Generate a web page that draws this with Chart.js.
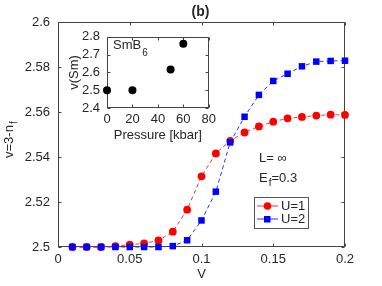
<!DOCTYPE html>
<html>
<head>
<meta charset="utf-8">
<script src="https://cdn.jsdelivr.net/npm/chart.js@4.4.1/dist/chart.umd.min.js"></script>
<style>
  html, body { margin: 0; padding: 0; background: #fff; }
  #wrap { position: relative; width: 382px; height: 286px; }
  #main { position: absolute; left: 0; top: 0; }
  #inset { position: absolute; left: 60px; top: 22px; }
</style>
</head>
<body>
<div id="wrap">
  <canvas id="main" width="382" height="286"></canvas>
  <canvas id="inset" width="160" height="125"></canvas>
</div>
<script>
// hybridisation V and valence for the two U values
const hybV = [0.01, 0.02, 0.03, 0.04, 0.05, 0.06, 0.07, 0.08, 0.09, 0.10,
              0.11, 0.12, 0.13, 0.14, 0.15, 0.16, 0.17, 0.18, 0.19, 0.20];
const valU1 = [2.5, 2.5, 2.5, 2.5004, 2.501, 2.5016, 2.5029, 2.5068, 2.5166, 2.5314,
               2.5416, 2.5472, 2.5509, 2.5536, 2.5557, 2.5572, 2.5578, 2.5584, 2.5588, 2.5587];
const valU2 = [2.5, 2.5, 2.5, 2.5, 2.5, 2.5, 2.5, 2.5004, 2.503, 2.5118,
               2.5246, 2.5465, 2.5579, 2.5676, 2.5738, 2.577, 2.5803, 2.5824, 2.5827, 2.5828];

// inset: SmB6 valence vs pressure
const pressure = [0, 20, 50, 60];
const valSm = [2.5, 2.5, 2.616, 2.761];

const FONT = 'Liberation Sans, Arial, sans-serif';
const TXT = '#262626';
const AX = '#444';

const toPts = (xs, ys) => xs.map((x, i) => ({x: x, y: ys[i]}));
const fmt = v => String(+v.toFixed(2));

// box round the axes with short inward ticks on all four sides
const frame = {
  id: 'frame',
  beforeDatasetsDraw(chart) {
    const {ctx, chartArea: a, scales} = chart;
    const L = Math.round(a.left) + 0.5, R = Math.round(a.right) - 0.5;
    const T = Math.round(a.top) + 0.5, B = Math.round(a.bottom) - 0.5;
    ctx.save();
    ctx.strokeStyle = AX;
    ctx.lineWidth = 1;
    ctx.strokeRect(L, T, R - L, B - T);
    ctx.beginPath();
    scales.x.ticks.forEach(t => {
      const px = Math.round(scales.x.getPixelForValue(t.value)) + 0.5;
      ctx.moveTo(px, B); ctx.lineTo(px, B - 3);
      ctx.moveTo(px, T); ctx.lineTo(px, T + 3);
    });
    scales.y.ticks.forEach(t => {
      const py = Math.round(scales.y.getPixelForValue(t.value)) + 0.5;
      ctx.moveTo(L, py); ctx.lineTo(L + 3, py);
      ctx.moveTo(R, py); ctx.lineTo(R - 3, py);
    });
    ctx.stroke();
    ctx.restore();
  }
};

function subText(ctx, x, y, main, sub, size, drop) {
  ctx.font = size + 'px ' + FONT;
  ctx.fillText(main, x, y);
  const w = ctx.measureText(main).width;
  ctx.font = (size - 3) + 'px ' + FONT;
  ctx.fillText(sub, x + w + 1, y + drop);
  return w + 1 + ctx.measureText(sub).width;
}

const labels = {
  id: 'labels',
  afterDraw(chart) {
    const {ctx, chartArea: a} = chart;
    ctx.save();
    ctx.fillStyle = TXT;
    ctx.textBaseline = 'middle';

    // title
    ctx.font = 'bold 14px ' + FONT;
    ctx.textAlign = 'center';
    ctx.fillText('(b)', (a.left + a.right) / 2 - 1, 12);

    // y axis title with subscript
    ctx.textAlign = 'left';
    ctx.save();
    ctx.translate(9, 158);
    ctx.rotate(-Math.PI / 2);
    subText(ctx, 0, 0, 'v=3-n', 'f', 13, 5);
    ctx.restore();

    // annotations
    ctx.font = '13px ' + FONT;
    ctx.fillText('L= \u221E', 259, 158);
    const w = subText(ctx, 259, 178, 'E', 'f', 13, 5);
    ctx.font = '13px ' + FONT;
    ctx.fillText('=0.3', 259 + w, 178);

    // legend
    ctx.strokeStyle = '#555';
    ctx.lineWidth = 1;
    ctx.strokeRect(254.5, 197.5, 54, 31);
    chart.data.datasets.forEach((ds, i) => {
      const y = 206 + i * 13;
      ctx.strokeStyle = ds.borderColor;
      ctx.beginPath();
      ctx.moveTo(257, y); ctx.lineTo(278, y);
      ctx.stroke();
      ctx.fillStyle = ds.pointBackgroundColor;
      if (ds.pointStyle === 'rect') {
        ctx.fillRect(264, y - 3, 6.5, 6.5);
      } else {
        ctx.beginPath(); ctx.arc(267.5, y, 3.8, 0, Math.PI * 2); ctx.fill();
      }
      ctx.fillStyle = TXT;
      ctx.font = '13px ' + FONT;
      ctx.fillText(ds.label, 281, y + 0.5);
    });
    ctx.restore();
  }
};

new Chart(document.getElementById('main'), {
  type: 'line',
  data: {
    datasets: [
      {
        label: 'U=1', data: toPts(hybV, valU1), order: 2, clip: false,
        borderColor: '#ff3030', borderWidth: 1, borderDash: [4, 3],
        pointStyle: 'circle', pointRadius: 3.9, pointBorderWidth: 0,
        pointBackgroundColor: '#ff0000'
      },
      {
        label: 'U=2', data: toPts(hybV, valU2), order: 1, clip: false,
        borderColor: '#3030ff', borderWidth: 1, borderDash: [4, 3],
        pointStyle: 'rect', pointRadius: 4.6, pointBorderWidth: 0,
        pointBackgroundColor: '#0000ff'
      }
    ]
  },
  options: {
    responsive: false,
    animation: false,
    layout: { padding: { top: 22, right: 37, left: 0, bottom: 0 } },
    plugins: { legend: { display: false }, tooltip: { enabled: false } },
    scales: {
      x: {
        type: 'linear', min: 0, max: 0.2,
        grid: { display: false, drawTicks: false }, border: { display: false },
        ticks: { stepSize: 0.05, autoSkip: false, padding: 5, color: TXT, font: { family: FONT, size: 13 }, callback: fmt },
        title: { display: true, text: 'V', color: TXT, font: { family: FONT, size: 13 } },
        afterFit: s => { s.height = 39; }
      },
      y: {
        type: 'linear', min: 2.5, max: 2.6,
        grid: { display: false, drawTicks: false }, border: { display: false },
        ticks: { stepSize: 0.02, autoSkip: false, padding: 8, color: TXT, font: { family: FONT, size: 13 }, callback: fmt },
        afterFit: s => { s.width = 58; }
      }
    }
  },
  plugins: [frame, labels]
});

const insetText = {
  id: 'insetText',
  afterDraw(chart) {
    const {ctx, chartArea: a} = chart;
    ctx.save();
    ctx.fillStyle = TXT;
    ctx.textBaseline = 'middle';
    ctx.textAlign = 'left';
    subText(ctx, a.left + 6, 23, 'SmB', '6', 13, 8);
    ctx.restore();
  }
};

new Chart(document.getElementById('inset'), {
  type: 'scatter',
  data: {
    datasets: [{
      data: toPts(pressure, valSm), clip: false,
      pointRadius: 4, pointBorderWidth: 0, pointBackgroundColor: '#000'
    }]
  },
  options: {
    responsive: false,
    animation: false,
    layout: { padding: { top: 7, right: 7, left: 0, bottom: 0 } },
    plugins: { legend: { display: false }, tooltip: { enabled: false } },
    scales: {
      x: {
        type: 'linear', min: 0, max: 80,
        grid: { display: false, drawTicks: false }, border: { display: false },
        ticks: { stepSize: 20, autoSkip: false, maxRotation: 0, padding: 4, color: TXT, font: { family: FONT, size: 13 } },
        title: { display: true, text: 'Pressure [kbar]', color: TXT, font: { family: FONT, size: 13 } },
        afterFit: s => { s.height = 39; }
      },
      y: {
        type: 'linear', min: 2.4, max: 2.8,
        grid: { display: false, drawTicks: false }, border: { display: false },
        ticks: { stepSize: 0.1, autoSkip: false, padding: 7, color: TXT, font: { family: FONT, size: 13 }, callback: v => v.toFixed(1) },
        title: { display: true, text: 'v(Sm)', color: TXT, font: { family: FONT, size: 13 }, padding: { top: 7, bottom: 4 } },
        afterFit: s => { s.width = 47; }
      }
    }
  },
  plugins: [frame, insetText]
});
</script>
</body>
</html>
